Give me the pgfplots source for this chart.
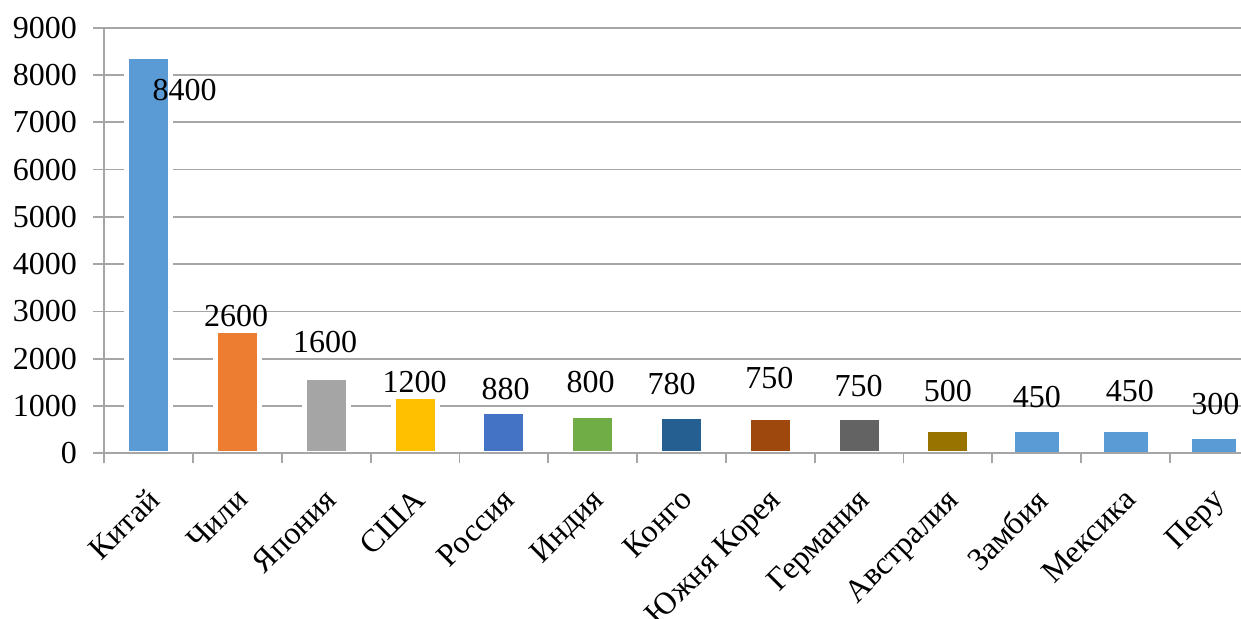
\documentclass[border=0pt]{standalone}
\usepackage{fontspec}
\setmainfont{Liberation Serif}
\usepackage{pgfplots}
\pgfplotsset{compat=1.18}

\definecolor{gridgray}{RGB}{166,166,166}
\definecolor{cBlue}{HTML}{5B9BD5}
\definecolor{cOrange}{HTML}{ED7D31}
\definecolor{cGray}{HTML}{A5A5A5}
\definecolor{cGold}{HTML}{FFC000}
\definecolor{cRoyal}{HTML}{4472C4}
\definecolor{cGreen}{HTML}{70AD47}
\definecolor{cNavy}{HTML}{255E91}
\definecolor{cRust}{HTML}{9E480E}
\definecolor{cDark}{HTML}{636363}
\definecolor{cOlive}{HTML}{997300}

% value label of one bar, shifted from the top of the bar
\pgfplotsset{lbl/.style 2 args={every node near coord/.append style={anchor=center, text=black, xshift=#1, yshift=#2}}}

\begin{document}
\begin{tikzpicture}
\begin{axis}[
  name=ax,
  scale only axis,
  width=568.35pt, height=212.8pt,
  xmin=-0.5, xmax=12.30,
  ymin=0, ymax=9000,
  clip=false,
  ybar, bar width=22pt, bar shift=0pt,
  ytick={0,1000,...,9000},
  xtick={0,...,12},
  xticklabels={Китай,Чили,Япония,США,Россия,Индия,Конго,Южня Корея,Германия,Австралия,Замбия,Мексика,Перу},
  minor xtick={-0.5,0.5,...,11.5},
  axis lines=left,
  axis line style={-, draw=gridgray, line width=0.9pt},
  tick align=outside,
  major tick length=5.5pt, minor tick length=5pt,
  tick style={draw=gridgray, line width=0.9pt},
  major x tick style={draw=none},
  ymajorgrids,
  grid style={draw=gridgray, line width=0.9pt},
  /pgf/number format/assume math mode=true,
  /pgf/number format/1000 sep={},
  tick label style={font=\fontsize{16}{19}\selectfont, text=black},
  yticklabel style={anchor=east, inner sep=0pt, xshift=-8pt},
  xticklabel style={xshift=-1.5pt, yshift=-11pt, rotate=45, anchor=north east, inner sep=0pt, font=\fontsize{16}{19}\selectfont},
  nodes near coords={\pgfmathprintnumber[assume math mode=true]{\pgfplotspointmeta}},
  every node near coord/.append style={font=\fontsize{16}{19}\selectfont, text=black},
]
% bars with a white outline
\addplot[fill=cBlue,   draw=white, line width=2.5pt, lbl={18pt}{-17pt}]     coordinates {(0,8400)};
\addplot[fill=cOrange, draw=white, line width=2.5pt, lbl={-0.75pt}{7.15pt}] coordinates {(1,2600)};
\addplot[fill=cGray,   draw=white, line width=2.5pt, lbl={-0.65pt}{17.8pt}] coordinates {(2,1600)};
\addplot[fill=cGold,   draw=white, line width=2.5pt, lbl={-0.2pt}{7.4pt}]   coordinates {(3,1200)};
\addplot[fill=cRoyal,  draw=white, line width=2.5pt, lbl={0.85pt}{11.35pt}] coordinates {(4,880)};
\addplot[fill=cGreen,  draw=white, line width=2.5pt, lbl={-1pt}{16.5pt}]    coordinates {(5,800)};
\addplot[fill=cNavy,   draw=white, line width=2.5pt, lbl={-5pt}{16.1pt}]    coordinates {(6,780)};
\addplot[fill=cRust,   draw=white, line width=2.5pt, lbl={-0.5pt}{19.9pt}]  coordinates {(7,750)};
\addplot[fill=cDark,   draw=white, line width=2.5pt, lbl={-0.25pt}{15.9pt}] coordinates {(8,750)};
\addplot[fill=cOlive,  draw=white, line width=2.5pt, lbl={0pt}{19.35pt}]    coordinates {(9,500)};
% bars without outline
\addplot[fill=cBlue, draw=none, lbl={0pt}{17.5pt}]   coordinates {(10,450)};
\addplot[fill=cBlue, draw=none, lbl={2.1pt}{20.5pt}] coordinates {(11,450)};
\addplot[fill=cBlue, draw=none, lbl={0.5pt}{17.5pt}] coordinates {(12,300)};
% horizontal axis line over the bar outlines
\draw[draw=gridgray, line width=0.9pt] (axis cs:-0.5,0) -- (axis cs:12.3,0);
\end{axis}
\pgfresetboundingbox
\path (ax.south west) +(-52.15pt,-82.85pt) rectangle +(568.35pt,226.65pt);
\end{tikzpicture}
\end{document}
